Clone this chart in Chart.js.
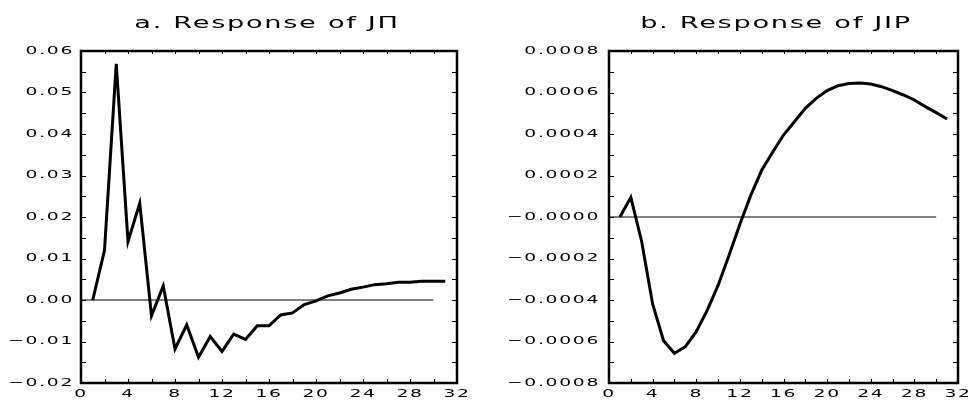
<!DOCTYPE html>
<html>
<head>
<meta charset="utf-8">
<style>
html, body { margin: 0; padding: 0; background: #fff; }
#wrap { position: relative; width: 971px; height: 400px; }
.panel { position: absolute; top: 0; height: 400px; }
</style>
</head>
<body>
<div id="wrap">
  <div class="panel" style="left:0;width:480px"><canvas id="chartJpi" width="480" height="400"></canvas></div>
  <div class="panel" style="left:480px;width:491px"><canvas id="chartJip" width="491" height="400"></canvas></div>
</div>
<script src="https://cdn.jsdelivr.net/npm/chart.js"></script>
<script>
// horizon (months after the shock)
const periods = [1, 2, 3, 4, 5, 6, 7, 8, 9, 10, 11, 12, 13, 14, 15, 16,
  17, 18, 19, 20, 21, 22, 23, 24, 25, 26, 27, 28, 29, 30, 31];

// a. response of JΠ
const jpiResponse = [0, 0.0120, 0.0569, 0.0141, 0.0233, -0.0038, 0.0034, -0.0118,
  -0.0060, -0.0138, -0.0088, -0.0124, -0.0082, -0.0095, -0.0062, -0.0062,
  -0.0036, -0.0031, -0.0011, -0.0002, 0.0010, 0.0017, 0.0026, 0.0031,
  0.0037, 0.0039, 0.0043, 0.0043, 0.0045, 0.0045, 0.0045];

// b. response of JIP
const jipResponse = [0, 0.000095, -0.000119, -0.000419, -0.000596, -0.000657, -0.000625,
  -0.000553, -0.000450, -0.000330, -0.000185, -0.000035, 0.000105, 0.000225,
  0.000312, 0.000395, 0.000459, 0.000524, 0.000572, 0.000609, 0.000633,
  0.000643, 0.000646, 0.000641, 0.000628, 0.000609, 0.000588, 0.000564,
  0.000532, 0.000503, 0.000472];

const zeroSpan = [0, 30];
const titles = ["a. Response of J\u03A0", "b. Response of JIP"];

const MINUS = "\u2212";
const FONT = '"DejaVu Sans", sans-serif';
const STRETCH = 1.7; // the original plot font is very wide

// draw every label horizontally stretched around its anchor point
function widenText(ctx) {
  if (ctx._widened) return;
  const fill = ctx.fillText.bind(ctx);
  ctx.fillText = function (text, x, y) {
    ctx.save();
    ctx.translate(x, y);
    ctx.scale(STRETCH, 1);
    fill(text, 0, 0);
    ctx.restore();
  };
  ctx._widened = true;
}

// frame, inward tick marks and panel title
const framePlugin = {
  id: "frame",
  beforeInit(chart) { widenText(chart.ctx); },
  beforeLayout(chart) { chart.ctx.letterSpacing = "1px"; },
  beforeDraw(chart) { chart.ctx.letterSpacing = "1px"; },
  afterDraw(chart, args, opts) {
    const { ctx, chartArea: a } = chart;
    const xs = chart.scales.x, ys = chart.scales.y;
    ctx.save();
    ctx.strokeStyle = "#000";
    ctx.lineWidth = 1;
    ctx.beginPath();
    xs.ticks.forEach(t => {
      const px = Math.round(xs.getPixelForValue(t.value)) + 0.5;
      ctx.moveTo(px, a.bottom); ctx.lineTo(px, a.bottom - 4);
      ctx.moveTo(px, a.top); ctx.lineTo(px, a.top + 3);
    });
    ys.ticks.forEach(t => {
      const py = Math.round(ys.getPixelForValue(t.value)) + 0.5;
      ctx.moveTo(a.left, py); ctx.lineTo(a.left + 5, py);
      ctx.moveTo(a.right, py); ctx.lineTo(a.right - 5, py);
    });
    ctx.stroke();
    ctx.lineWidth = 2.5;
    ctx.strokeRect(a.left, a.top, a.right - a.left, a.bottom - a.top);

    ctx.font = "16px " + FONT;
    ctx.letterSpacing = "1px";
    ctx.fillStyle = "#000";
    ctx.textAlign = "center";
    ctx.textBaseline = "alphabetic";
    ctx.fillText(opts.text, opts.x, 28);
    ctx.restore();
  }
};

function pairs(xs, ys) {
  return xs.map((x, i) => ({ x: x, y: ys[i] }));
}

function makeChart(id, values, yCfg, axisWidth, rightPad, title, titleX) {
  const ctx = document.getElementById(id).getContext("2d");
  return new Chart(ctx, {
    type: "line",
    data: {
      datasets: [
        {
          data: pairs(periods, values),
          borderColor: "#000",
          borderWidth: 3,
          pointRadius: 0,
          tension: 0,
          fill: false
        },
        {
          data: pairs(zeroSpan, [0, 0]),
          borderColor: "#000",
          borderWidth: 1,
          pointRadius: 0,
          fill: false
        }
      ]
    },
    options: {
      responsive: false,
      animation: false,
      layout: { padding: { top: 51, right: rightPad, left: 0, bottom: 0 } },
      plugins: {
        legend: { display: false },
        tooltip: { enabled: false },
        frame: { text: title, x: titleX }
      },
      scales: {
        x: {
          type: "linear",
          min: 0, max: 32,
          grid: { display: false, drawTicks: false },
          border: { display: false },
          afterFit: s => { s.height = 17; },
          ticks: {
            stepSize: 2,
            autoSkip: false,
            maxRotation: 0,
            padding: 5,
            color: "#000",
            font: { family: FONT, size: 11 },
            callback: v => (v % 4 === 0 ? String(v) : "")
          }
        },
        y: {
          min: yCfg.min, max: yCfg.max,
          grid: { display: false, drawTicks: false },
          border: { display: false },
          afterFit: s => { s.width = axisWidth; },
          ticks: {
            stepSize: yCfg.step,
            autoSkip: false,
            padding: yCfg.pad,
            color: "#000",
            font: { family: FONT, size: 11 },
            callback: yCfg.fmt
          }
        }
      }
    },
    plugins: [framePlugin]
  });
}

makeChart("chartJpi", jpiResponse, {
  min: -0.02, max: 0.06, step: 0.005, pad: 7,
  fmt: v => {
    const k = Math.round(v * 200);
    if (k % 2 !== 0) return "";
    return (k < 0 ? MINUS : "") + Math.abs(v).toFixed(2);
  }
}, 81, 23, titles[0], 267);

makeChart("chartJip", jipResponse, {
  min: -0.0008, max: 0.0008, step: 0.0001, pad: 9,
  fmt: v => {
    const k = Math.round(v * 10000);
    if (k % 2 !== 0) return "";
    return (k <= 0 ? MINUS : "") + Math.abs(v).toFixed(4);
  }
}, 129, 13, titles[1], 296);
</script>
</body>
</html>
